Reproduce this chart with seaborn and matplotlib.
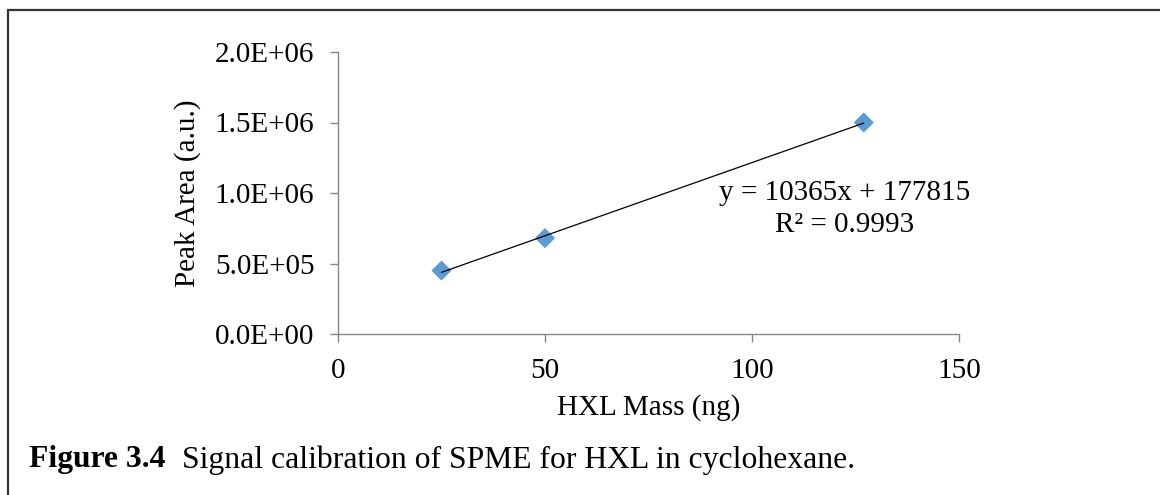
import matplotlib
matplotlib.use("Agg")
import matplotlib.pyplot as plt
import seaborn as sns
import pandas as pd
from matplotlib.lines import Line2D
from matplotlib.ticker import FuncFormatter

# Data
mass_ng = [25, 50, 127]
peak_area = [4.5e5, 6.8e5, 1.5e6]
x_ticks = [0, 50, 100, 150]
y_ticks = [0, 5e5, 1e6, 1.5e6, 2e6]
equation = "y = 10365x + 177815"
r2_text = "R² = 0.9993"
x_label = "HXL Mass (ng)"
y_label = "Peak Area (a.u.)"
caption_bold = "Figure 3.4"
caption_text = "Signal calibration of SPME for HXL in cyclohexane."

sns.set_theme(style="white")
plt.rcParams['font.family'] = ['Liberation Serif', 'DejaVu Serif']
plt.rcParams['text.color'] = 'black'
plt.rcParams['axes.labelcolor'] = 'black'

df = pd.DataFrame({"mass": mass_ng, "area": peak_area})

W, H = 1160, 495
fig = plt.figure(figsize=(W / 100, H / 100), dpi=100)
ax = fig.add_axes([338 / W, 1 - 334 / H, (959 - 338) / W, (334 - 52) / H])

sns.regplot(data=df, x="mass", y="area", ax=ax, ci=None, truncate=True,
            marker="D",
            scatter_kws=dict(s=105, color="#5B9BD5", edgecolor="none", alpha=1, zorder=3),
            line_kws=dict(color="black", linewidth=0.9, zorder=4))

ax.set_xlim(0, 150)
ax.set_ylim(0, 2e6)
ax.set_xticks(x_ticks)
ax.set_yticks(y_ticks)
ax.yaxis.set_major_formatter(FuncFormatter(lambda v, p: f"{v:.1E}"))
ax.tick_params(axis='both', labelsize=21, labelcolor="black", length=6, width=1,
               direction='out', color="#868686", bottom=True, left=True)
ax.tick_params(axis='x', pad=11)
ax.tick_params(axis='y', pad=11)
for s in ["top", "right"]:
    ax.spines[s].set_visible(False)
for s in ["left", "bottom"]:
    ax.spines[s].set_color("#868686")
    ax.spines[s].set_linewidth(1)
ax.set_xlabel(x_label, fontsize=21)
ax.set_ylabel(y_label, fontsize=21)
ax.yaxis.set_label_coords((188 - 338) / (959 - 338), 0.5)
ax.xaxis.set_label_coords(0.5, -(408 - 334) / (334 - 52))
ax.xaxis.label.set_va("center")
ax.yaxis.label.set_va("center")

fig.text(845 / W, 1 - 193 / H, equation, fontsize=21, ha="center", va="center")
fig.text(845 / W, 1 - 225 / H, r2_text, fontsize=21, ha="center", va="center")

# Caption
fig.text(29 / W, 1 - 460 / H, caption_bold, fontsize=22.8, fontweight="bold",
         ha="left", va="center")
fig.text(182 / W, 1 - 460 / H, caption_text, fontsize=22.8, ha="left", va="center")

# Frame border (left and top visible)
fig.add_artist(Line2D([8 / W, 8 / W], [0, 1 - 10 / H], transform=fig.transFigure,
                      color="#333333", linewidth=1.6))
fig.add_artist(Line2D([8 / W, 1], [1 - 10 / H, 1 - 10 / H], transform=fig.transFigure,
                      color="#333333", linewidth=1.6))

fig.savefig("out.png", dpi=100)
